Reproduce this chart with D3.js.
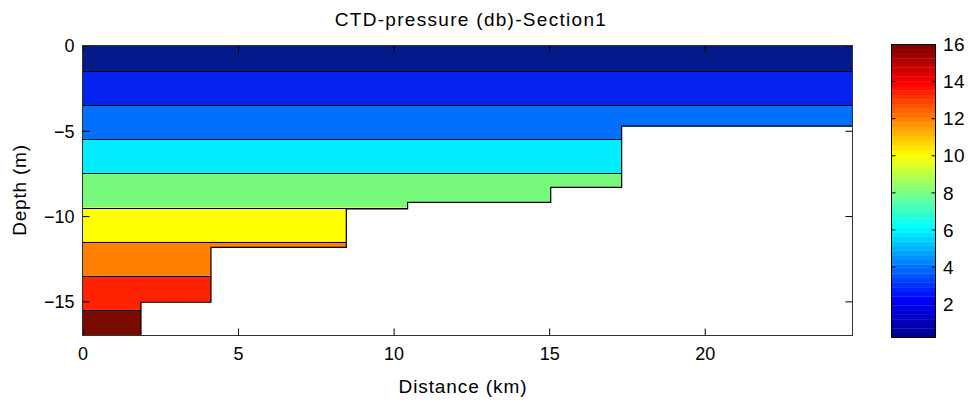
<!DOCTYPE html>
<html><head><meta charset="utf-8">
<script src="https://cdn.jsdelivr.net/npm/d3@7"></script>
<style>
body{margin:0;background:#fff}
svg{display:block}
text{font-family:"Liberation Sans",Arial,Helvetica,sans-serif;fill:#000}
</style>
</head><body>
<svg id="c" width="972" height="405"></svg>
<script>
// ---------- data ----------
const chartTitle = "CTD-pressure (db)-Section1";
const xLabel = "Distance (km)";
const yLabel = "Depth (m)";
// segment edges along the section (km)
const segmentEdgesKm = [0, 1.88, 4.13, 8.48, 10.45, 15.05, 17.33, 24.75];
// deepest sampled level within each segment (m, negative)
const bottomDepthM = [-17, -15.05, -11.83, -9.58, -9.2, -8.32, -4.73];
// contour level boundaries (db, ~ m)
const contourLevels = [1.5, 3.5, 5.5, 7.5, 9.5, 11.5, 13.5, 15.5];
const pressureRange = [0, 17];
const xTicks = [0, 5, 10, 15, 20];
const yTicks = [0, -5, -10, -15];
const cbTicks = [2, 4, 6, 8, 10, 12, 14, 16];
const xDomain = [0, 24.75];
const yDomain = [-17, 0];
const cbDomain = [0.2, 16];

// ---------- styles ----------
const bandColors = ["#021a8a", "#0523ee", "#0070ff", "#00eeff", "#77f97b",
                    "#ffff00", "#ff8000", "#ff2200", "#780a00"];
const jet = d3.scaleLinear()
  .domain([0, 0.125, 0.375, 0.625, 0.875, 1])
  .range(["#00008f", "#0000ff", "#00ffff", "#ffff00", "#ff0000", "#800000"]);

const svg = d3.select("#c");
const L = 82.5, R = 852.5, T = 45.5, B = 335.5;
const x = d3.scaleLinear().domain(xDomain).range([L, R]);
const y = d3.scaleLinear().domain(yDomain).range([B, T]);

// water area (above bottom profile)
const prof = segmentEdgesKm.map((e, i) => ({x: e, z: bottomDepthM[Math.min(i, bottomDepthM.length - 1)]}));
const area = d3.area().curve(d3.curveStepAfter).x(d => x(d.x)).y0(y(0)).y1(d => y(d.z));
const line = d3.line().curve(d3.curveStepAfter).x(d => x(d.x)).y(d => y(d.z));

svg.append("clipPath").attr("id", "water").append("path").attr("d", area(prof));

const edges = [pressureRange[0], ...contourLevels, pressureRange[1]];
const gBands = svg.append("g").attr("clip-path", "url(#water)");
gBands.selectAll("rect").data(d3.range(edges.length - 1)).join("rect")
  .attr("x", L).attr("width", R - L)
  .attr("y", i => y(-edges[i]))
  .attr("height", i => y(-edges[i + 1]) - y(-edges[i]))
  .attr("fill", i => bandColors[i]);

gBands.selectAll("line").data(contourLevels).join("line")
  .attr("x1", L).attr("x2", R)
  .attr("y1", d => Math.round(y(-d)) + 0.5).attr("y2", d => Math.round(y(-d)) + 0.5)
  .attr("stroke", "#000").attr("stroke-width", 1);

svg.append("path").attr("d", line(prof)).attr("fill", "none")
  .attr("stroke", "#000").attr("stroke-width", 1.2);

// axes
function styleAxis(g) {
  g.select(".domain").remove();
  g.selectAll(".tick line").attr("stroke", "#000");
  g.attr("font-family", null).attr("font-size", null);
}
svg.append("g").attr("transform", `translate(0,${B})`)
  .call(d3.axisBottom(x).tickValues(xTicks).tickSize(-7).tickPadding(12))
  .call(styleAxis)
  .selectAll("text").style("font-size", "18px");
svg.append("g").attr("transform", `translate(0,${T})`)
  .call(d3.axisTop(x).tickValues(xTicks).tickSize(-7).tickFormat(""))
  .call(styleAxis);
svg.append("g").attr("transform", `translate(${L},0)`)
  .call(d3.axisLeft(y).tickValues(yTicks).tickSize(-7).tickPadding(8))
  .call(styleAxis)
  .selectAll("text").style("font-size", "18px").attr("dy", "0.35em");
svg.append("g").attr("transform", `translate(${R},0)`)
  .call(d3.axisRight(y).tickValues(yTicks).tickSize(-7).tickFormat(""))
  .call(styleAxis);

svg.append("rect").attr("x", L).attr("y", T).attr("width", R - L).attr("height", B - T)
  .attr("fill", "none").attr("stroke", "#333").attr("stroke-width", 1);

// labels
svg.append("text").attr("x", 471).attr("y", 26).attr("text-anchor", "middle")
  .style("font-size", "19px").style("letter-spacing", "1.3px").text(chartTitle);
svg.append("text").attr("x", 463).attr("y", 393).attr("text-anchor", "middle")
  .style("font-size", "19px").style("letter-spacing", "0.9px").text(xLabel);
svg.append("text").attr("transform", "translate(26,190) rotate(-90)").attr("text-anchor", "middle")
  .style("font-size", "19px").style("letter-spacing", "0.8px").text(yLabel);

// colorbar
const cL = 891.5, cR = 935.5, cT = 44.5, cB = 337.5;
const cy = d3.scaleLinear().domain(cbDomain).range([cB, cT]);
const nC = 64;
const step = (cbDomain[1] - cbDomain[0]) / nC;
svg.append("g").selectAll("rect").data(d3.range(nC)).join("rect")
  .attr("x", cL).attr("width", cR - cL)
  .attr("y", i => cy(cbDomain[0] + (i + 1) * step))
  .attr("height", i => cy(cbDomain[0] + i * step) - cy(cbDomain[0] + (i + 1) * step) + 0.3)
  .attr("fill", i => jet(i / (nC - 1)));
svg.append("rect").attr("x", cL).attr("y", cT).attr("width", cR - cL).attr("height", cB - cT)
  .attr("fill", "none").attr("stroke", "#000");
const cbG = svg.append("g");
cbG.selectAll("line.l").data(cbTicks).join("line").attr("class", "l")
  .attr("x1", cL).attr("x2", cL + 4).attr("y1", d => cy(d)).attr("y2", d => cy(d)).attr("stroke", "#000");
cbG.selectAll("line.r").data(cbTicks).join("line").attr("class", "r")
  .attr("x1", cR - 4).attr("x2", cR).attr("y1", d => cy(d)).attr("y2", d => cy(d)).attr("stroke", "#000");
cbG.selectAll("text").data(cbTicks).join("text")
  .attr("x", 943).attr("y", d => cy(d)).attr("dy", "0.35em")
  .style("font-size", "19px").style("letter-spacing", "0.5px").text(d => d);
</script>
</body></html>
